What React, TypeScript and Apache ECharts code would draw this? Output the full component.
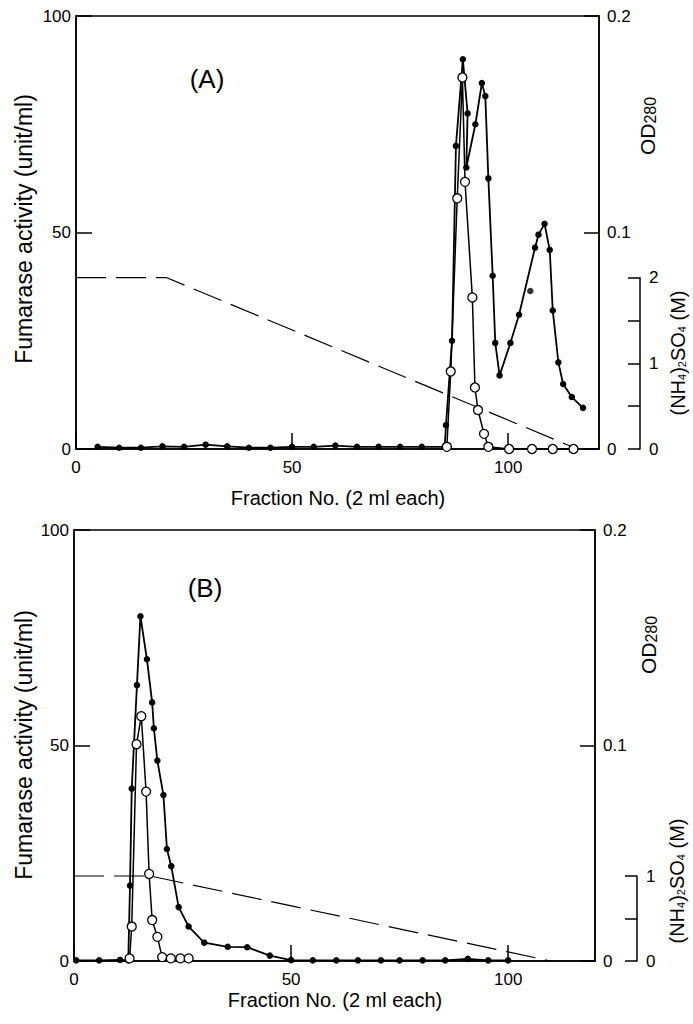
import React, { useEffect, useRef } from "react";
import * as echarts from "echarts";

// ---------- data ----------
// Panel A: open circles = fumarase activity (unit/ml), filled = OD280
const activityA: [number, number][] = [
  [85.8, 0.5], [86.7, 17.9], [88.2, 57.9], [89.4, 85.8], [90.0, 61.7], [91.7, 35.0],
  [92.3, 14.2], [93.0, 9.0], [94.4, 3.5], [95.4, 0.5], [100.2, 0], [105.5, 0],
  [110.3, 0], [115.1, 0],
];
const od280A: [number, number][] = [
  [5, 0.001], [10, 0.0006], [15, 0.0006], [20, 0.0012], [25, 0.001], [30, 0.002],
  [35, 0.0012], [40, 0.0006], [45, 0.0006], [50, 0.001], [55, 0.001], [60, 0.0016],
  [65, 0.001], [70, 0.001], [75, 0.001], [80, 0.001], [85.3, 0.001], [85.6, 0.011],
  [87.0, 0.05], [87.9, 0.14], [89.5, 0.18], [90.6, 0.155], [90.3, 0.13], [92.4, 0.15],
  [93.9, 0.169], [94.7, 0.163], [95.4, 0.125], [96.4, 0.08], [97.0, 0.049], [98.0, 0.034],
  [100.5, 0.049], [102.5, 0.062], [106.2, 0.093], [107.0, 0.099], [108.4, 0.104],
  [109.6, 0.092], [110.3, 0.064], [111.6, 0.04], [112.7, 0.03], [114.7, 0.024], [117.3, 0.019],
];
const od280AOffLine: [number, number][] = [[105.1, 0.073]];
const saltA: [number, number][] = [[0, 2], [21, 2], [116, 0]];

// Panel B
const activityB: [number, number][] = [
  [12.8, 0.6], [13.3, 8.0], [14.4, 50.3], [15.5, 56.8], [16.6, 39.3], [17.3, 20.2],
  [18.0, 9.5], [19.2, 5.6], [20.3, 0.9], [22.3, 0.6], [24.5, 0.6], [26.4, 0.6],
];
const od280B: [number, number][] = [
  [0.5, 0.0003], [5.8, 0.0003], [10.6, 0.0005], [12.5, 0.0003], [12.9, 0.035], [13.3, 0.08],
  [14.5, 0.128], [15.3, 0.16], [16.8, 0.14], [18.0, 0.12], [18.4, 0.108], [19.2, 0.093],
  [20.6, 0.077], [21.4, 0.052], [22.4, 0.044], [24.1, 0.025], [26.4, 0.016], [30.0, 0.0085],
  [35.4, 0.0066], [39.9, 0.0064], [45.1, 0.0025], [50.0, 0.0004], [55.0, 0.0003],
  [60.4, 0.0003], [65.4, 0.0003], [70.7, 0.0003], [75.0, 0.0003], [80.3, 0.0003],
  [85.5, 0.0003], [90.7, 0.001], [95.4, 0.0003], [100.0, 0.0003],
];
const saltB: [number, number][] = [[0, 1], [17.6, 1], [109.8, 0]];

// axis ranges
const xMaxA = 121;
const xMaxB = 120;
const activityMax = 100;
const odMax = 0.2;
const saltMaxA = 2;
const saltMaxB = 1;

const FONT = "'Liberation Sans', Arial, Helvetica, sans-serif";
const BLACK = "#000";

function xAxisMain(gridIndex: number, max: number) {
  return {
    type: "value", gridIndex, min: 0, max, interval: 50,
    axisLine: { show: true, onZero: false, lineStyle: { color: BLACK, width: 1.5 } },
    axisTick: { show: true, inside: true, length: 16, lineStyle: { color: BLACK, width: 1.5 } },
    axisLabel: { color: BLACK, fontSize: 17, fontFamily: FONT, margin: 10, showMaxLabel: false },
    splitLine: { show: false },
  };
}
function xAxisHidden(gridIndex: number, max: number) {
  return { type: "value", gridIndex, min: 0, max, show: false, splitLine: { show: false } };
}
function yAxisLeft(gridIndex: number) {
  return {
    type: "value", gridIndex, min: 0, max: activityMax, interval: 50, position: "left",
    axisLine: { show: true, onZero: false, lineStyle: { color: BLACK, width: 1.5 } },
    axisTick: { show: true, inside: true, length: 16, lineStyle: { color: BLACK, width: 1.5 } },
    axisLabel: { color: BLACK, fontSize: 17, fontFamily: FONT, margin: 5 },
    splitLine: { show: false },
  };
}
function yAxisOD(gridIndex: number) {
  return {
    type: "value", gridIndex, min: 0, max: odMax, interval: 0.1, position: "right",
    axisLine: { show: true, onZero: false, lineStyle: { color: BLACK, width: 1.5 } },
    axisTick: { show: true, inside: true, length: 15, lineStyle: { color: BLACK, width: 1.5 } },
    axisLabel: { color: BLACK, fontSize: 17, fontFamily: FONT, margin: 8 },
    splitLine: { show: false },
  };
}
function yAxisSalt(gridIndex: number, max: number, offset: number) {
  return {
    type: "value", gridIndex, min: 0, max, interval: 0.5, position: "right", offset,
    axisLine: { show: true, onZero: false, lineStyle: { color: BLACK, width: 1.5 } },
    axisTick: { show: true, inside: true, length: 12, lineStyle: { color: BLACK, width: 1.5 } },
    axisLabel: {
      color: BLACK, fontSize: 17, fontFamily: FONT, margin: 9,
      formatter: (v: number) => (Math.abs(v - Math.round(v)) < 1e-9 ? String(Math.round(v)) : ""),
    },
    splitLine: { show: false },
  };
}

function filledSeries(xi: number, yi: number, data: [number, number][]) {
  return {
    type: "line", xAxisIndex: xi, yAxisIndex: yi, data, symbol: "circle", symbolSize: 6.5,
    itemStyle: { color: BLACK }, lineStyle: { color: BLACK, width: 1.8 }, clip: false, z: 3,
    silent: true,
  };
}
function openSeries(xi: number, yi: number, data: [number, number][]) {
  return {
    type: "line", xAxisIndex: xi, yAxisIndex: yi, data, symbol: "circle", symbolSize: 9,
    itemStyle: { color: "#fff", borderColor: BLACK, borderWidth: 1.3 },
    lineStyle: { color: BLACK, width: 1.5 }, clip: false, z: 4, silent: true,
  };
}
function saltSeries(xi: number, yi: number, data: [number, number][]) {
  return {
    type: "line", xAxisIndex: xi, yAxisIndex: yi, data, symbol: "none",
    lineStyle: { color: BLACK, width: 1.2, type: [30, 10] }, clip: false, z: 2, silent: true,
  };
}

function txt(x: number, y: number, text: string, fontSize: number, rotate = false) {
  return {
    type: "text", x, y, rotation: rotate ? Math.PI / 2 : 0, silent: true,
    style: { text, fontSize, fontFamily: FONT, fill: BLACK, align: "center", verticalAlign: "middle" },
  };
}
function odLabel(x: number, y: number) {
  return {
    type: "text", x, y, rotation: Math.PI / 2, silent: true,
    style: {
      text: "{a|OD}{b|280}", fontFamily: FONT, fill: BLACK, align: "center", verticalAlign: "middle",
      rich: {
        a: { fontSize: 21, fontFamily: FONT, fill: BLACK, lineHeight: 22, verticalAlign: "bottom" },
        b: { fontSize: 16, fontFamily: FONT, fill: BLACK, lineHeight: 22, verticalAlign: "bottom" },
      },
    },
  };
}
function saltLabel(x: number, y: number) {
  return {
    type: "text", x, y, rotation: Math.PI / 2, silent: true,
    style: {
      text: "{a|(NH}{s|4}{a|)}{s|2}{a|SO}{s|4}{a| (M)}", fontFamily: FONT, fill: BLACK,
      align: "center", verticalAlign: "middle",
      rich: {
        a: { fontSize: 20, fontFamily: FONT, fill: BLACK, lineHeight: 21, verticalAlign: "bottom" },
        s: { fontSize: 11, fontFamily: FONT, fill: BLACK, lineHeight: 18, verticalAlign: "bottom" },
      },
    },
  };
}

export default function App() {
  const ref = useRef<HTMLDivElement>(null);
  useEffect(() => {
    document.body.style.margin = "0";
    const chart = echarts.init(ref.current!, null, { renderer: "svg" });
    const option: any = {
      animation: false,
      backgroundColor: "#fff",
      grid: [
        { left: 76, top: 16, width: 523, height: 433, show: true, borderColor: BLACK, borderWidth: 1.5, backgroundColor: "transparent" },
        { left: 76, top: 277.7, width: 523, height: 171.3, show: false },
        { left: 74, top: 530, width: 521, height: 431, show: true, borderColor: BLACK, borderWidth: 1.5, backgroundColor: "transparent" },
        { left: 74, top: 876, width: 521, height: 85, show: false },
      ],
      xAxis: [xAxisMain(0, xMaxA), xAxisHidden(1, xMaxA), xAxisMain(2, xMaxB), xAxisHidden(3, xMaxB)],
      yAxis: [
        yAxisLeft(0), yAxisOD(0), yAxisSalt(1, saltMaxA, 41),
        yAxisLeft(2), yAxisOD(2), yAxisSalt(3, saltMaxB, 42),
      ],
      series: [
        saltSeries(1, 2, saltA),
        filledSeries(0, 1, od280A),
        { type: "scatter", xAxisIndex: 0, yAxisIndex: 1, data: od280AOffLine, symbol: "circle", symbolSize: 6.5, itemStyle: { color: BLACK }, z: 3, silent: true },
        openSeries(0, 0, activityA),
        saltSeries(3, 5, saltB),
        filledSeries(2, 4, od280B),
        openSeries(2, 3, activityB),
      ],
      graphic: [
        txt(24, 229, "Fumarase activity (unit/ml)", 23, true),
        txt(338, 498, "Fraction No. (2 ml each)", 20),
        txt(207, 79, "(A)", 26),
        odLabel(647, 126),
        saltLabel(677, 353),
        txt(24, 745, "Fumarase activity (unit/ml)", 23, true),
        txt(335, 1000, "Fraction No. (2 ml each)", 20),
        txt(205, 588, "(B)", 26),
        odLabel(648, 645),
        saltLabel(676, 881),
      ],
    };
    chart.setOption(option);
    return () => chart.dispose();
  }, []);
  return <div ref={ref} style={{ width: 693, height: 1024, background: "#fff" }} />;
}
